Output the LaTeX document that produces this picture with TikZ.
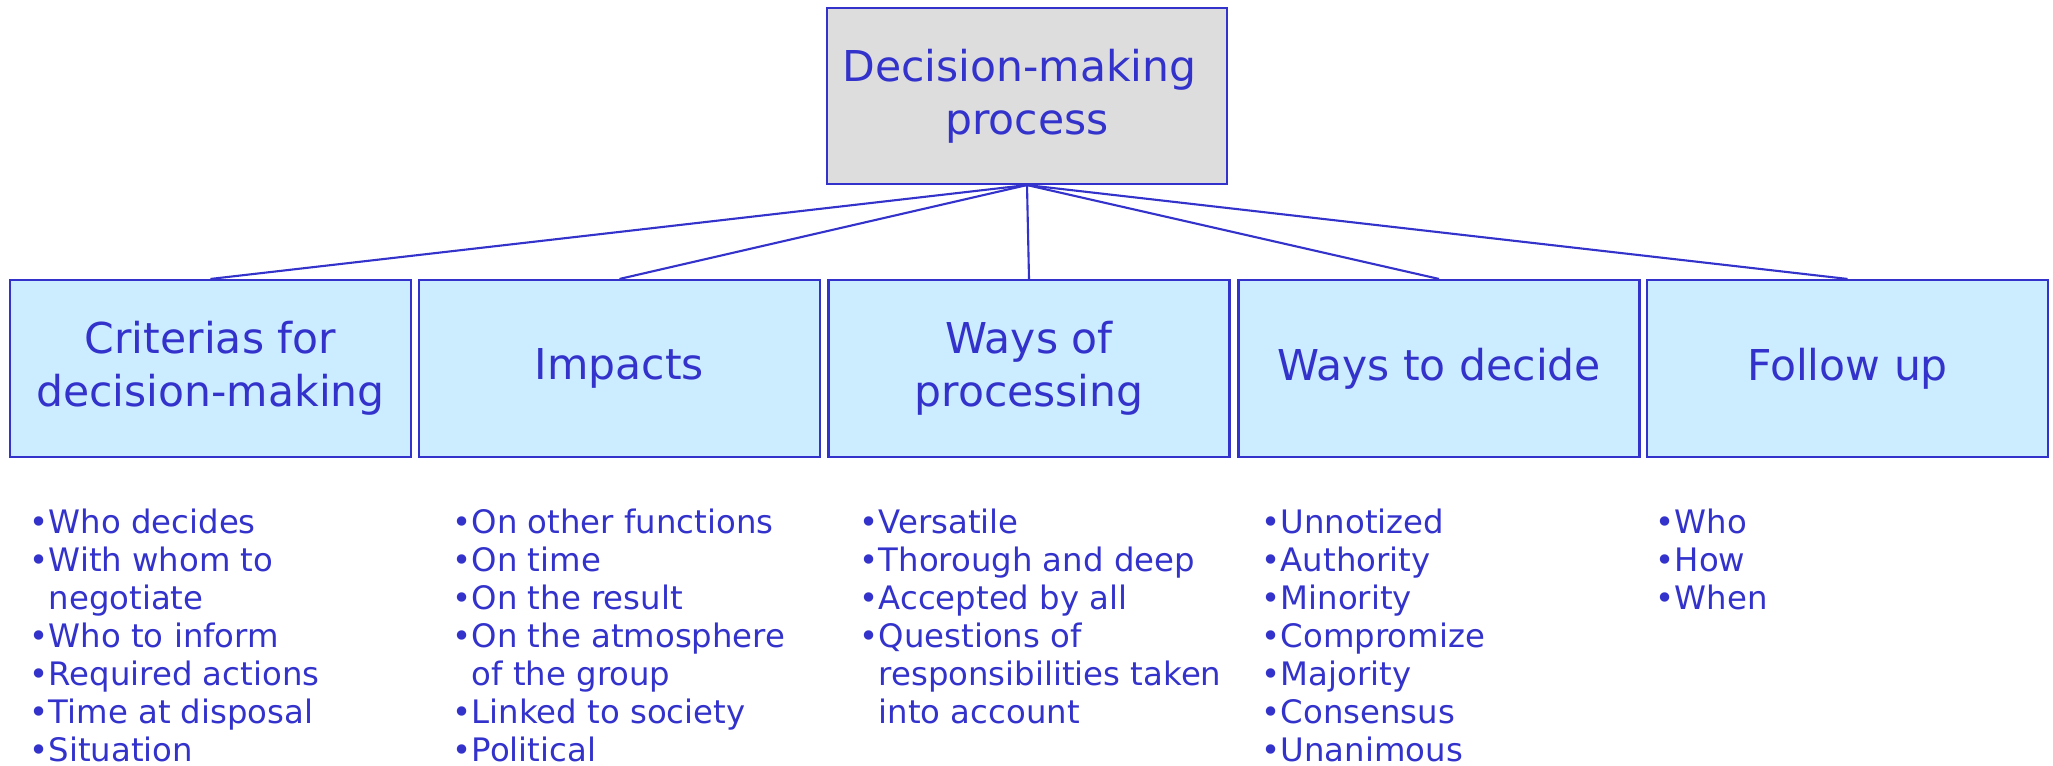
\documentclass[tikz,border=0pt]{standalone}
\usepackage{fontspec}
\setmainfont{DejaVu Sans}
\usepackage{tikz}
\definecolor{inkblue}{RGB}{51,51,204}
\definecolor{rootgray}{RGB}{221,221,221}
\definecolor{branchblue}{RGB}{204,236,255}

\begin{document}
\begin{tikzpicture}
  [x=1cm,y=1cm,
   rootbox/.style={rectangle,draw=inkblue,line width=.6pt,fill=rootgray,text=inkblue,
     minimum width=4cm,minimum height=1.76cm,align=center,
     font=\fontsize{12.1}{15}\selectfont},
   branchbox/.style={rootbox,fill=branchblue,minimum width=4.01cm,minimum height=1.77cm},
   itemlist/.style={anchor=north west,inner sep=0pt,align=left,text=inkblue,
     font=\fontsize{9.2}{10.8}\selectfont}]
  \useasboundingbox (0,0) rectangle (20.53,-7.65);

  \node[rootbox] (root) at (10.27,-0.96) {Decision-making\hspace*{.35em}\\process};

  \node[branchbox] (crit)   at (2.105,-3.685)  {Criterias for\\decision-making};
  \node[branchbox] (imp)    at (6.195,-3.685)  {Impacts};
  \node[branchbox] (proc)   at (10.29,-3.685)  {Ways of\\processing};
  \node[branchbox] (decide) at (14.39,-3.685)  {Ways to decide};
  \node[branchbox] (follow) at (18.475,-3.685) {Follow up};

  \foreach \to in {crit,imp,proc,decide,follow}
    \draw[inkblue,line width=.6pt] (root.south) -- (\to.north);

  \node[itemlist] (critlist) at (0.29,-5.08)
    {•Who decides\\•With whom to\\\hphantom{•}negotiate\\•Who to inform\\
     •Required actions\\•Time at disposal\\•Situation};
  \node[itemlist] (implist) at (4.52,-5.08)
    {•On other functions\\•On time\\•On the result\\•On the atmosphere\\
     \hphantom{•}of the group\\•Linked to society\\•Political};
  \node[itemlist] (proclist) at (8.59,-5.08)
    {•Versatile\\•Thorough and deep\\•Accepted by all\\•Questions of\\
     \hphantom{•}responsibilities taken\\\hphantom{•}into account};
  \node[itemlist] (decidelist) at (12.61,-5.08)
    {•Unnotized\\•Authority\\•Minority\\•Compromize\\•Majority\\•Consensus\\•Unanimous};
  \node[itemlist] (followlist) at (16.55,-5.08)
    {•Who\\•How\\•When};
\end{tikzpicture}
\end{document}
